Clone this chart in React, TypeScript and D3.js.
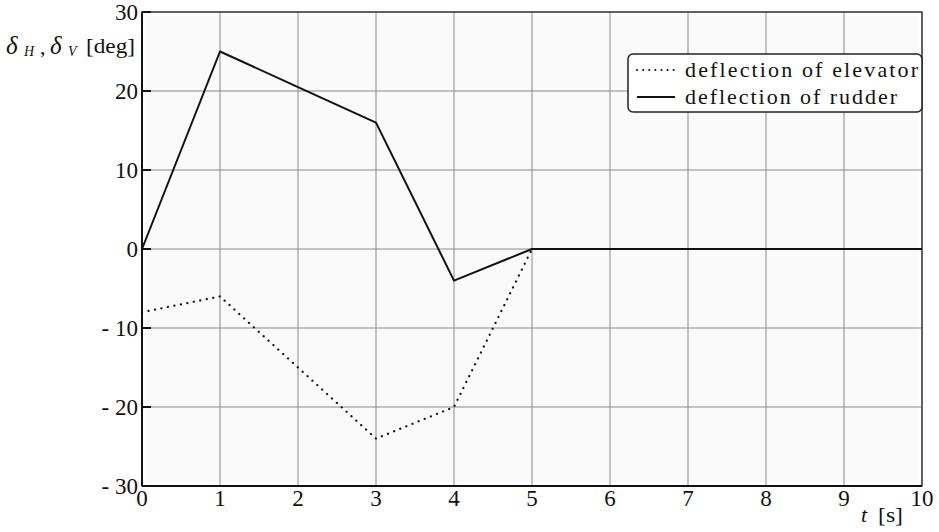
import React from "react";
import * as d3 from "d3";

// Control surface deflections over time
const rudderTime = [0, 1, 2, 3, 4, 5, 10];
const rudderDeg = [0, 25, 20.5, 16, -4, 0, 0];
const elevatorTime = [0, 1, 3, 4, 5, 10];
const elevatorDeg = [-8, -6, -24, -20, 0, 0];
const xTicks = [0, 1, 2, 3, 4, 5, 6, 7, 8, 9, 10];
const yTicks = [-30, -20, -10, 0, 10, 20, 30];
const legendLabels = ["deflection of elevator", "deflection of rudder"];

const W = 939;
const H = 532;
const left = 142;
const right = 922;
const top = 12;
const bottom = 486;
const serif = '"Liberation Serif", "Times New Roman", "DejaVu Serif", serif';

export default function App() {
  const x = d3.scaleLinear().domain([0, 10]).range([left, right]);
  const y = d3.scaleLinear().domain([-30, 30]).range([bottom, top]);
  const line = d3
    .line<[number, number]>()
    .x((d) => x(d[0]))
    .y((d) => y(d[1]));
  const rudder = rudderTime.map((t, i) => [t, rudderDeg[i]] as [number, number]);
  const elevator = elevatorTime.map((t, i) => [t, elevatorDeg[i]] as [number, number]);

  return (
    <svg
      width={W}
      height={H}
      style={{ position: "absolute", left: 0, top: 0, background: "#fff", fontFamily: serif }}
    >
      <rect x={left + 4} y={top + 4} width={right - left - 8} height={bottom - top - 8} fill="#fafafa" />
      {/* grid */}
      {xTicks.map((t) => (
        <line key={"gx" + t} x1={x(t)} x2={x(t)} y1={top} y2={bottom} stroke="#8a8a8a" strokeWidth={1} />
      ))}
      {yTicks.map((t) => (
        <line key={"gy" + t} x1={left} x2={right} y1={y(t)} y2={y(t)} stroke="#8a8a8a" strokeWidth={1} />
      ))}
      {/* frame */}
      <rect x={left} y={top} width={right - left} height={bottom - top} fill="none" stroke="#222" strokeWidth={1.2} />
      <line x1={left} x2={left} y1={top} y2={bottom} stroke="#111" strokeWidth={2} />
      <line x1={left} x2={right} y1={bottom} y2={bottom} stroke="#111" strokeWidth={2} />
      {/* left ticks */}
      {yTicks.map((t) => (
        <line key={"ty" + t} x1={left} x2={left + 9} y1={y(t)} y2={y(t)} stroke="#111" strokeWidth={2} />
      ))}
      {/* series */}
      <path d={line(elevator) || ""} fill="none" stroke="#111" strokeWidth={2.2} strokeDasharray="0.1 6.5" strokeLinecap="round" />
      <path d={line(rudder) || ""} fill="none" stroke="#111" strokeWidth={2} strokeLinejoin="round" />
      {/* y tick labels */}
      {yTicks.map((t) => (
        <text key={"ly" + t} x={left - 4} y={y(t)} dy="0.33em" textAnchor="end" fontSize={23} fill="#111">
          {t < 0 ? "- " + Math.abs(t) : t}
        </text>
      ))}
      {/* x tick labels */}
      {xTicks.map((t) => (
        <text key={"lx" + t} x={x(t)} y={bottom + 20} textAnchor="middle" fontSize={23} fill="#111">
          {t}
        </text>
      ))}
      {/* axis titles */}
      <text y={54} fontSize={22} fill="#111">
        <tspan x={6} fontStyle="italic" fontSize={25}>δ</tspan>
        <tspan x={24} dy={2} fontStyle="italic" fontSize={14}>H</tspan>
        <tspan x={40} dy={-2}>,</tspan>
        <tspan x={50} fontStyle="italic" fontSize={25}>δ</tspan>
        <tspan x={68} dy={2} fontStyle="italic" fontSize={14}>V</tspan>
        <tspan x={86} dy={-3} textLength={49} lengthAdjust="spacingAndGlyphs">[deg]</tspan>
      </text>
      <text y={522} fontSize={22} fill="#111">
        <tspan x={861} fontStyle="italic">t</tspan>
        <tspan x={878} textLength={25} lengthAdjust="spacingAndGlyphs">[s]</tspan>
      </text>
      {/* legend */}
      <rect x={628} y={54} width={294} height={58} rx={5} fill="#fff" stroke="#222" strokeWidth={1.5} />
      <line x1={637} x2={675} y1={70} y2={70} stroke="#111" strokeWidth={2} strokeDasharray="0.1 6" strokeLinecap="round" />
      <line x1={637} x2={675} y1={97} y2={97} stroke="#111" strokeWidth={2} />
      <text x={685} y={77} fontSize={22} fill="#111" textLength={233} lengthAdjust="spacing">
        {legendLabels[0]}
      </text>
      <text x={685} y={104} fontSize={22} fill="#111" textLength={212} lengthAdjust="spacing">
        {legendLabels[1]}
      </text>
    </svg>
  );
}
